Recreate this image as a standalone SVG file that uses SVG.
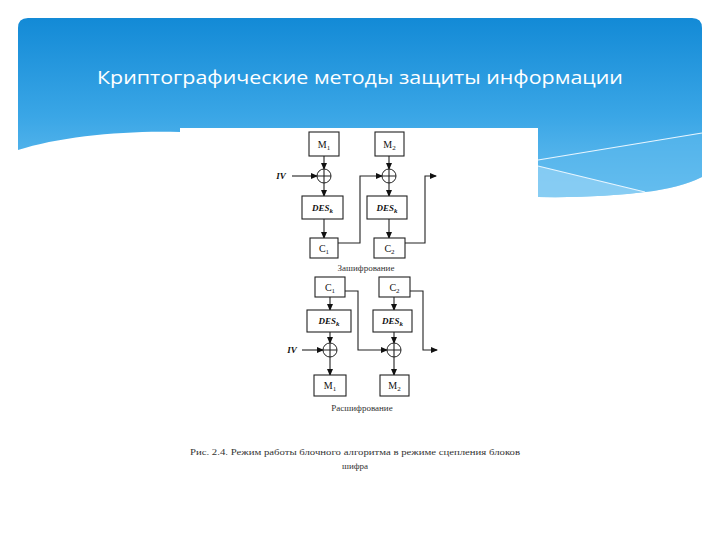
<svg xmlns="http://www.w3.org/2000/svg" width="720" height="540" viewBox="0 0 720 540">
<defs>
<linearGradient id="hdr" x1="0" y1="0" x2="0" y2="1">
<stop offset="0" stop-color="#138ad6"/>
<stop offset="0.55" stop-color="#3aa6e6"/>
<stop offset="1" stop-color="#6cc1f0"/>
</linearGradient>
<marker id="ah" markerWidth="7" markerHeight="6" refX="6" refY="3" orient="auto" markerUnits="userSpaceOnUse">
<path d="M0,0 L7,3 L0,6 Z" fill="#111"/>
</marker>
<style>
.box{fill:#fff;stroke:#222;stroke-width:1.1}
.xor{fill:#fff;stroke:#222;stroke-width:1}
.ln{fill:none;stroke:#222;stroke-width:1.1}
.lbl{font-family:"Liberation Serif",serif;font-size:10px;fill:#111;text-anchor:middle}
.des{font-family:"Liberation Serif",serif;font-size:9px;font-style:italic;font-weight:bold;fill:#111;text-anchor:middle}
.iv{font-family:"Liberation Serif",serif;font-size:9px;font-style:italic;font-weight:bold;fill:#111;text-anchor:middle}
.cap{font-family:"Liberation Serif",serif;font-size:9px;fill:#333;text-anchor:middle}
.sub{font-size:7px}
</style>
</defs>
<rect width="720" height="540" fill="#fff"/>
<!-- header -->
<path d="M18,28 Q18,18 28,18 H692 Q702,18 702,28 V177 Q680,188 645,192 Q600,198 538,197 L180,140 L180,132 C130,130 60,136 18,150 Z" fill="url(#hdr)"/>
<path d="M538,166 L645,192 Q600,198 538,197 Z" fill="#8fd0f4" opacity="0.8"/>
<path d="M538,160 L702,133 V177 Q680,188 645,192 L538,166 Z" fill="#5db9ee" opacity="0.5"/>
<line x1="538" y1="160" x2="702" y2="133" stroke="#e8f6ff" stroke-width="1.2"/>
<line x1="538" y1="166" x2="645" y2="192" stroke="#e8f6ff" stroke-width="1.2"/>
<text x="360" y="84" font-family="'Open Sans',sans-serif" font-size="19" fill="#fff" text-anchor="middle" textLength="526" lengthAdjust="spacingAndGlyphs">Криптографические методы защиты информации</text>
<rect x="180" y="128" width="358" height="300" fill="#fff"/>
<g id="connectors">
<line class="ln" x1="324" y1="156" x2="324" y2="169" marker-end="url(#ah)" stroke-width="1.5"/>
<line class="ln" x1="324" y1="183" x2="324" y2="196" marker-end="url(#ah)" stroke-width="1.5"/>
<line class="ln" x1="324" y1="219" x2="324" y2="238" marker-end="url(#ah)" stroke-width="1.5"/>
<line class="ln" x1="389" y1="156" x2="389" y2="169" marker-end="url(#ah)"/>
<line class="ln" x1="389" y1="183" x2="389" y2="196" marker-end="url(#ah)"/>
<line class="ln" x1="389" y1="219" x2="389" y2="238" marker-end="url(#ah)"/>
<line class="ln" x1="292" y1="176" x2="317" y2="176" marker-end="url(#ah)"/>
<polyline class="ln" points="338,243 360,243 360,176 382,176" marker-end="url(#ah)"/>
<polyline class="ln" points="405,243 425,243 425,176 436,176" marker-end="url(#ah)"/>
<line class="ln" x1="330" y1="297" x2="330" y2="310" marker-end="url(#ah)" stroke-width="1.5"/>
<line class="ln" x1="330" y1="332" x2="330" y2="343" marker-end="url(#ah)" stroke-width="1.5"/>
<line class="ln" x1="330" y1="357" x2="330" y2="375" marker-end="url(#ah)" stroke-width="1.5"/>
<line class="ln" x1="394" y1="297" x2="394" y2="310" marker-end="url(#ah)"/>
<line class="ln" x1="394" y1="332" x2="394" y2="343" marker-end="url(#ah)"/>
<line class="ln" x1="394" y1="357" x2="394" y2="375" marker-end="url(#ah)"/>
<line class="ln" x1="302" y1="350" x2="323" y2="350" marker-end="url(#ah)"/>
<polyline class="ln" points="345,291 358,291 358,350 387,350" marker-end="url(#ah)"/>
<polyline class="ln" points="410,291 423,291 423,350 437,350" marker-end="url(#ah)"/>
</g>
<g id="m1"><rect class="box" x="309" y="132" width="30" height="24"/><text class="lbl" x="324" y="148">M<tspan class="sub" dy="2">1</tspan></text></g>
<g id="m2"><rect class="box" x="375" y="132" width="29" height="24"/><text class="lbl" x="389.5" y="148">M<tspan class="sub" dy="2">2</tspan></text></g>
<g id="xor1"><circle class="xor" cx="324" cy="176" r="7"/><path class="ln" d="M317,176 H331 M324,169 V183"/></g>
<g id="xor2"><circle class="xor" cx="389" cy="176" r="7"/><path class="ln" d="M382,176 H396 M389,169 V183"/></g>
<g id="des1"><rect class="box" x="302" y="196" width="41" height="23"/><text class="des" x="322.5" y="211">DES<tspan class="sub" dy="2">k</tspan></text></g>
<g id="des2"><rect class="box" x="367" y="196" width="40" height="23"/><text class="des" x="387" y="211">DES<tspan class="sub" dy="2">k</tspan></text></g>
<g id="c1"><rect class="box" x="310" y="238" width="28" height="20"/><text class="lbl" x="324" y="252">C<tspan class="sub" dy="2">1</tspan></text></g>
<g id="c2"><rect class="box" x="374" y="238" width="31" height="20"/><text class="lbl" x="389.5" y="252">C<tspan class="sub" dy="2">2</tspan></text></g>
<text class="iv" x="281" y="179">IV</text>
<text class="cap" x="366" y="271" fill="#111">Зашифрование</text>
<g id="dc1"><rect class="box" x="315" y="277" width="30" height="20"/><text class="lbl" x="330" y="291">C<tspan class="sub" dy="2">1</tspan></text></g>
<g id="dc2"><rect class="box" x="379" y="277" width="31" height="20"/><text class="lbl" x="394.5" y="291">C<tspan class="sub" dy="2">2</tspan></text></g>
<g id="ddes1"><rect class="box" x="307" y="310" width="44" height="22"/><text class="des" x="329" y="324">DES<tspan class="sub" dy="2">k</tspan></text></g>
<g id="ddes2"><rect class="box" x="373" y="310" width="39" height="22"/><text class="des" x="392.5" y="324">DES<tspan class="sub" dy="2">k</tspan></text></g>
<g id="dxor1"><circle class="xor" cx="330" cy="350" r="7"/><path class="ln" d="M323,350 H337 M330,343 V357"/></g>
<g id="dxor2"><circle class="xor" cx="394" cy="350" r="7"/><path class="ln" d="M387,350 H401 M394,343 V357"/></g>
<g id="dm1"><rect class="box" x="314" y="375" width="32" height="21"/><text class="lbl" x="330" y="389">M<tspan class="sub" dy="2">1</tspan></text></g>
<g id="dm2"><rect class="box" x="380" y="375" width="29" height="21"/><text class="lbl" x="394.5" y="389">M<tspan class="sub" dy="2">2</tspan></text></g>
<text class="iv" x="292" y="353">IV</text>
<text class="cap" x="362" y="411" fill="#111">Расшифрование</text>
<text class="cap" x="355" y="455" textLength="330" lengthAdjust="spacingAndGlyphs">Рис. 2.4. Режим работы блочного алгоритма в режиме сцепления блоков</text>
<text class="cap" x="355" y="469">шифра</text>
</svg>
